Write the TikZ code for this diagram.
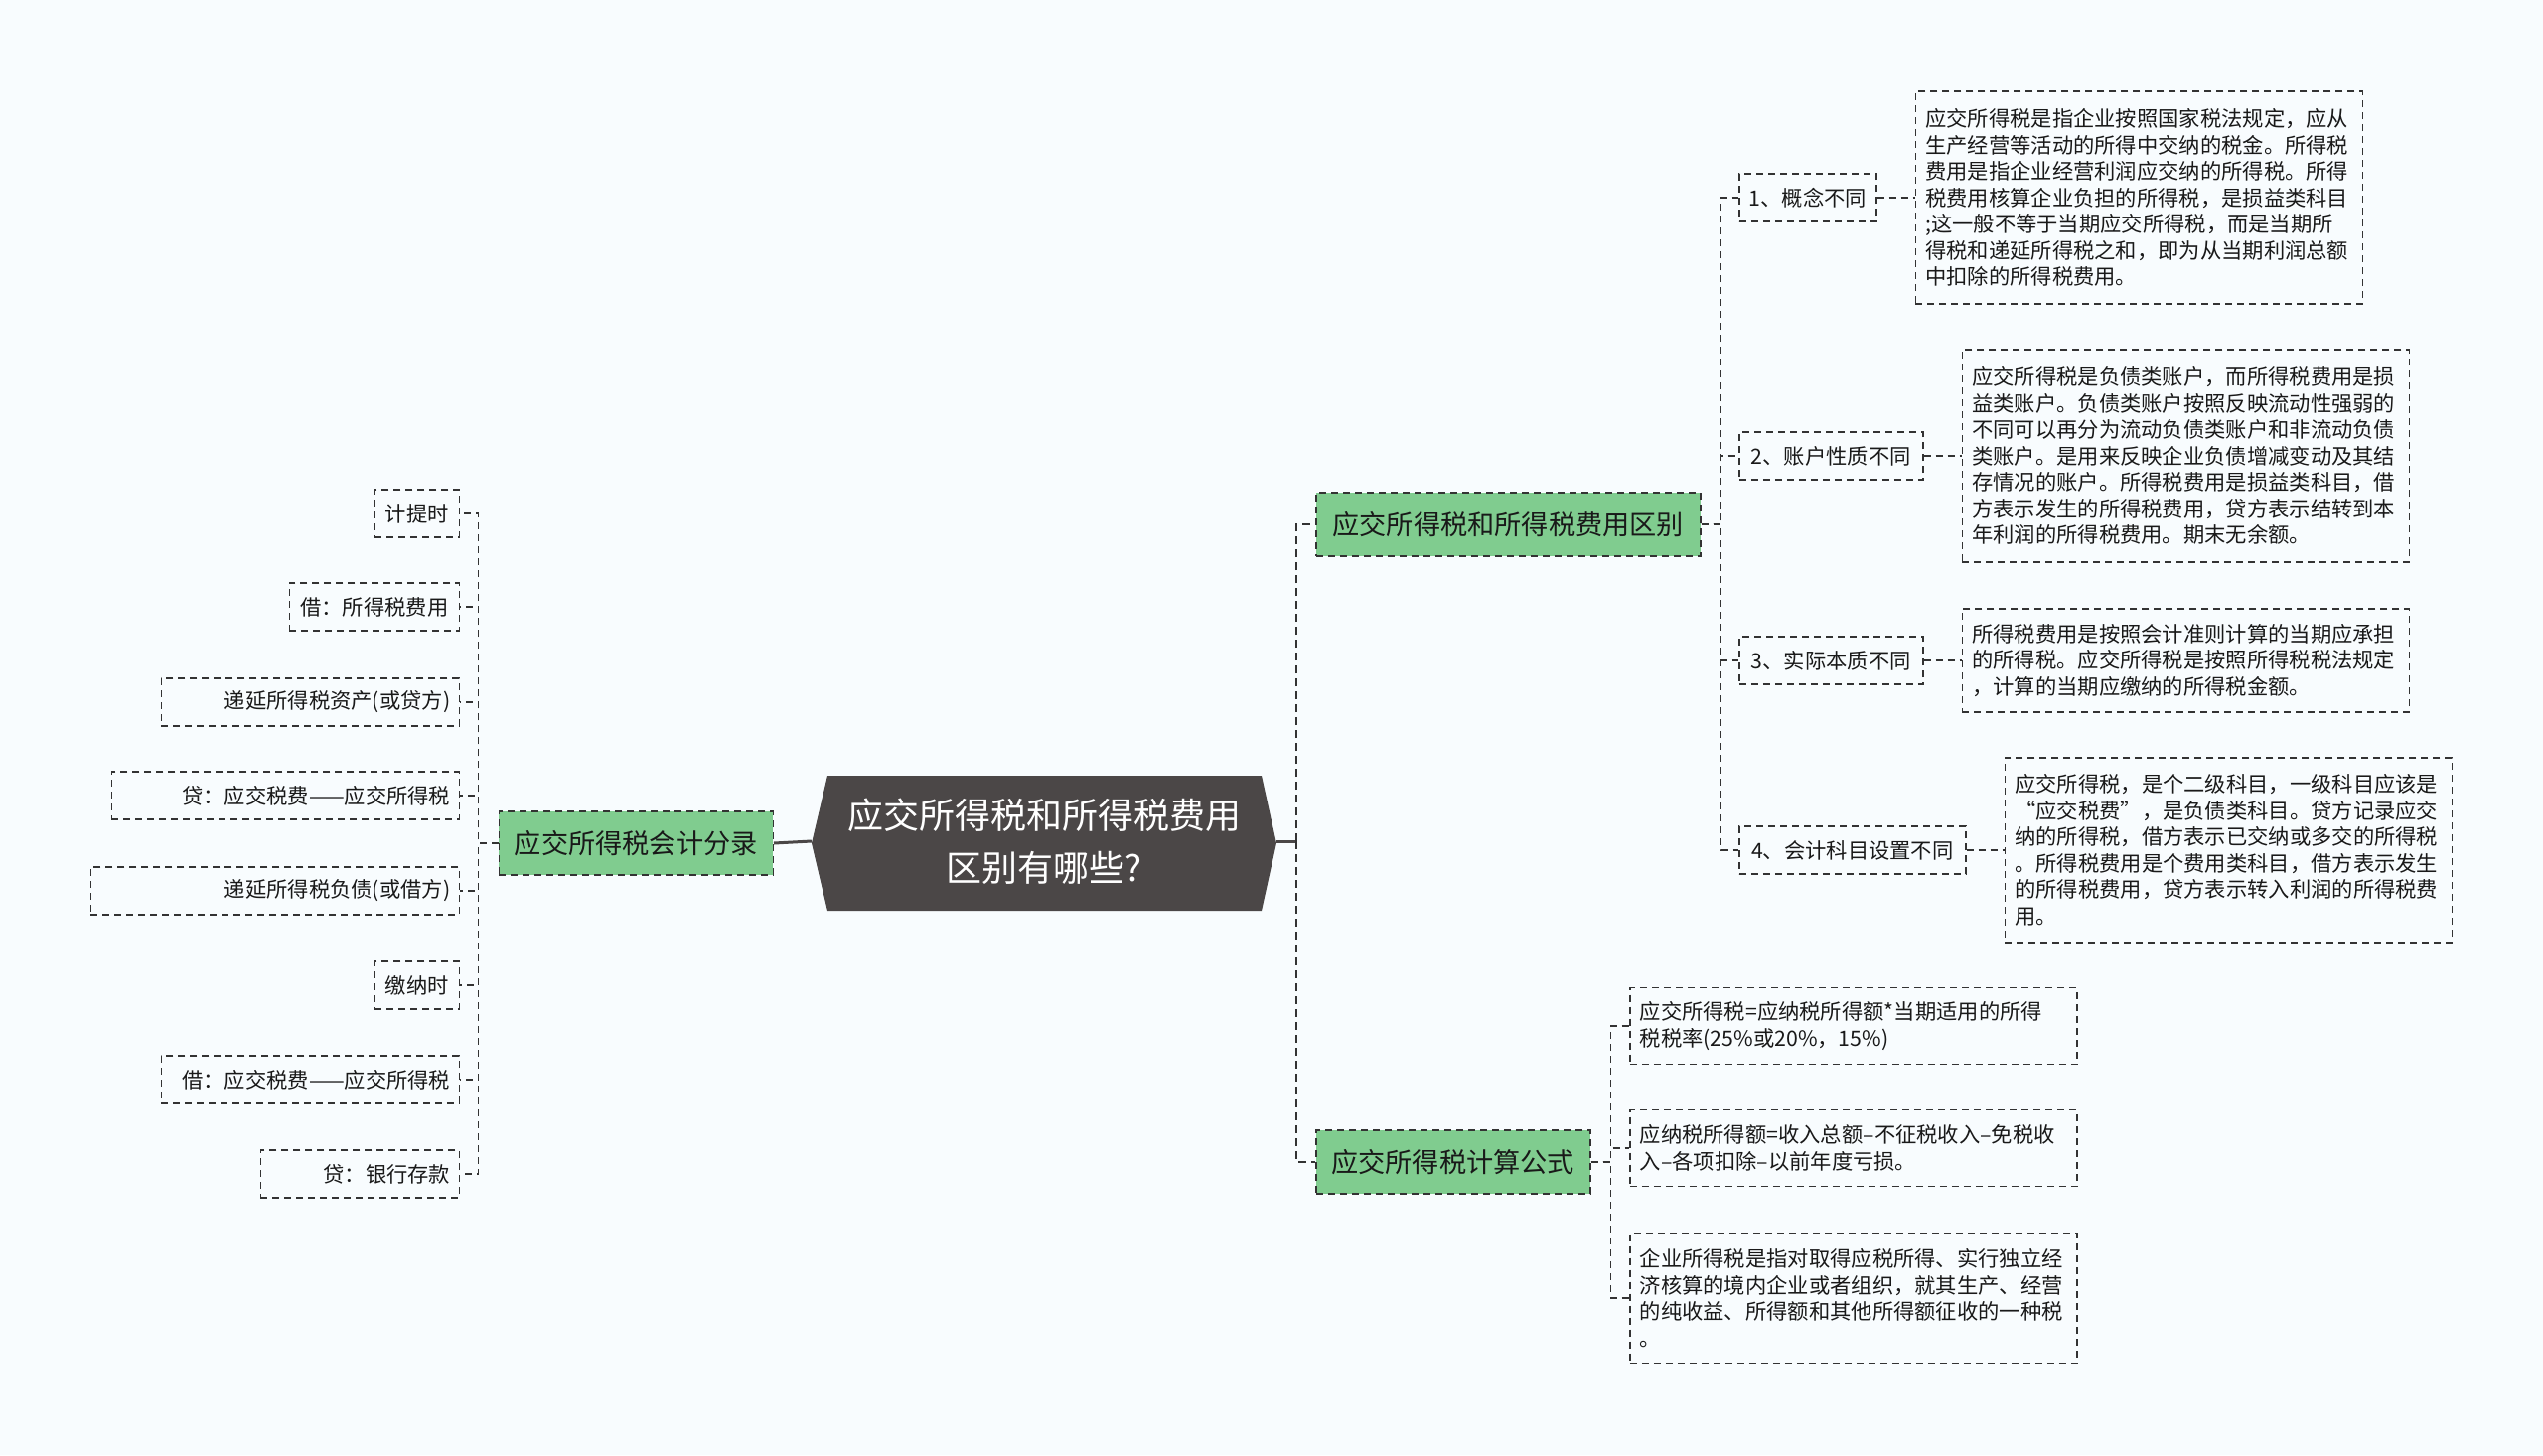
\documentclass[tikz,border=0pt]{standalone}
\usepackage{fontspec}
\setmainfont{Noto Sans CJK SC}
\usetikzlibrary{positioning}
\definecolor{bgcol}{HTML}{F8FCFE}
\definecolor{leafgreen}{HTML}{80CC8F}
\definecolor{rootgray}{HTML}{4B4747}
\definecolor{linegray}{HTML}{333333}
\newcommand{\leaffont}{\fontsize{21.3pt}{26.5pt}\selectfont}
\newcommand{\topicfont}{\fontsize{27.2pt}{32pt}\selectfont}
\newcommand{\rootfont}{\fontsize{36pt}{53pt}\selectfont}

\begin{document}
\begin{tikzpicture}[x=1pt,y=-1pt,
   dashbox/.style={draw=linegray,line width=1.5pt,dash pattern=on 7pt off 5pt,text=black!90},
   leaf/.style={dashbox,font=\leaffont,inner xsep=9pt,inner ysep=0pt,minimum height=48pt},
   note/.style={dashbox,font=\leaffont,text width=430pt,align=left,inner xsep=10pt,inner ysep=0pt},
   topic/.style={dashbox,fill=leafgreen,font=\topicfont,inner xsep=15pt,minimum height=64pt},
   link/.style={draw=linegray,line width=1.5pt,dash pattern=on 7pt off 5pt},
   rootlink/.style={draw=rootgray,line width=3pt},
   rootdash/.style={draw=linegray,line width=2.5pt,dash pattern=on 8pt off 5pt}]
  \fill[bgcol] (0,0) rectangle (2560,1465);

  % centre
  \fill[rootgray] (817,849) -- (833,781) -- (1270,781) -- (1285,849) -- (1270,917) -- (833,917) -- cycle;
  \node[font=\rootfont,text=white,align=center,minimum width=468pt,minimum height=136pt,inner sep=0pt] (root) at (1051,847) {应交所得税和所得税费用\\区别有哪些?};

  % left branch
  \node[topic,anchor=east,minimum width=276pt] (gl) at (779,849) {应交所得税会计分录};
  \node[leaf,anchor=east,minimum width=85pt] (a1) at (463,517) {计提时};
  \node[leaf,anchor=east,minimum width=171pt] (a2) at (463,611) {借：所得税费用};
  \node[leaf,anchor=east,text width=282pt,align=right] (a3) at (463,707) {递延所得税资产(或贷方)};
  \node[leaf,anchor=east,text width=332pt,align=right] (a4) at (463,801) {贷：应交税费——应交所得税};
  \node[leaf,anchor=east,text width=353pt,align=right] (a5) at (463,897) {递延所得税负债(或借方)};
  \node[leaf,anchor=east,minimum width=85pt] (a6) at (463,992) {缴纳时};
  \node[leaf,anchor=east,text width=282pt,align=right] (a7) at (463,1087) {借：应交税费——应交所得税};
  \node[leaf,anchor=east,text width=182pt,align=right] (a8) at (463,1182) {贷：银行存款};

  % right branch
  \node[topic,anchor=west,minimum width=387pt] (g1) at (1324,528) {应交所得税和所得税费用区别};
  \node[topic,anchor=west,minimum width=276pt] (g2) at (1324,1170) {应交所得税计算公式};

  \node[leaf,anchor=west,minimum width=138pt] (l1) at (1750,199) {1、概念不同};
  \node[leaf,anchor=west,minimum width=185pt] (l2) at (1750,459) {2、账户性质不同};
  \node[leaf,anchor=west,minimum width=185pt] (l3) at (1750,665) {3、实际本质不同};
  \node[leaf,anchor=west,minimum width=228pt] (l4) at (1750,856) {4、会计科目设置不同};

  \node[note,minimum height=214pt,right=38pt of l1] (b1) {应交所得税是指企业按照国家税法规定，应从\\生产经营等活动的所得中交纳的税金。所得税\\费用是指企业经营利润应交纳的所得税。所得\\税费用核算企业负担的所得税，是损益类科目\\;这一般不等于当期应交所得税，而是当期所\\得税和递延所得税之和，即为从当期利润总额\\中扣除的所得税费用。};
  \node[note,minimum height=214pt,right=38pt of l2] (b2) {应交所得税是负债类账户，而所得税费用是损\\益类账户。负债类账户按照反映流动性强弱的\\不同可以再分为流动负债类账户和非流动负债\\类账户。是用来反映企业负债增减变动及其结\\存情况的账户。所得税费用是损益类科目，借\\方表示发生的所得税费用，贷方表示结转到本\\年利润的所得税费用。期末无余额。};
  \node[note,minimum height=104pt,right=38pt of l3] (b3) {所得税费用是按照会计准则计算的当期应承担\\的所得税。应交所得税是按照所得税税法规定\\，计算的当期应缴纳的所得税金额。};
  \node[note,minimum height=186pt,right=38pt of l4] (b4) {应交所得税，是个二级科目，一级科目应该是\\“应交税费”，是负债类科目。贷方记录应交\\纳的所得税，借方表示已交纳或多交的所得税\\。所得税费用是个费用类科目，借方表示发生\\的所得税费用，贷方表示转入利润的所得税费\\用。};

  \node[note,minimum height=77pt,anchor=west] (f1) at (1640,1033) {应交所得税=应纳税所得额*当期适用的所得\\税税率(25\%或20\%，15\%)};
  \node[note,minimum height=77pt,anchor=west] (f2) at (1640,1156) {应纳税所得额=收入总额–不征税收入–免税收\\入–各项扣除–以前年度亏损。};
  \node[note,minimum height=131pt,anchor=west] (f3) at (1640,1307) {企业所得税是指对取得应税所得、实行独立经\\济核算的境内企业或者组织，就其生产、经营\\的纯收益、所得额和其他所得额征收的一种税\\。};

  % connectors
  \draw[rootlink] (root.west) -- (gl.east);
  \coordinate (rj) at ([xshift=20pt]root.east);
  \draw[rootlink] (root.east) -- (rj);
  \draw[rootdash] (rj) |- (g1.west);
  \draw[rootdash] (rj) |- (g2.west);
  \foreach \n in {a1,a2,a3,a4,a5,a6,a7,a8}
    \draw[link] (gl.west) -- ++(-20,0) |- (\n.east);
  \foreach \n in {l1,l2,l3,l4}
    \draw[link] (g1.east) -- ++(20,0) |- (\n.west);
  \foreach \n in {1,2,3,4}
    \draw[link] (l\n) -- (b\n);
  \foreach \n in {f1,f2,f3}
    \draw[link] (g2.east) -- ++(20,0) |- (\n.west);
\end{tikzpicture}
\end{document}
